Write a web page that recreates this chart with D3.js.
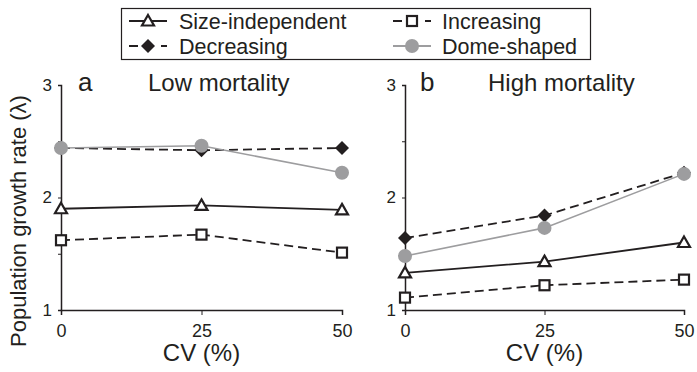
<!DOCTYPE html>
<html>
<head>
<meta charset="utf-8">
<script src="https://cdn.jsdelivr.net/npm/d3@7"></script>
<style>
  body { margin: 0; background: #fff; }
  text { font-family: "Liberation Sans", Arial, sans-serif; fill: #231f20; }
</style>
</head>
<body>
<svg id="chart" width="697" height="372"></svg>
<script>
// data
const cv = [0, 25, 50];
const seriesNames = ["Size-independent", "Decreasing", "Increasing", "Dome-shaped"];
const lowSizeIndep = [1.90, 1.93, 1.89];
const lowDecreasing = [2.44, 2.42, 2.44];
const lowIncreasing = [1.62, 1.67, 1.51];
const lowDome = [2.44, 2.46, 2.22];
const highSizeIndep = [1.33, 1.43, 1.60];
const highDecreasing = [1.64, 1.84, 2.22];
const highIncreasing = [1.11, 1.22, 1.27];
const highDome = [1.48, 1.73, 2.21];
const yTicks = [1, 1.5, 2, 2.5, 3];
const panelLetters = ["a", "b"];
const panelTitles = ["Low mortality", "High mortality"];

const svg = d3.select("#chart");
const ink = "#231f20";
const grey = "#9d9d9f";

const style = {
  "Size-independent": { dash: null, color: ink, marker: "triangle" },
  "Decreasing": { dash: "9,5", color: ink, marker: "diamond" },
  "Increasing": { dash: "9,5", color: ink, marker: "square" },
  "Dome-shaped": { dash: null, color: grey, marker: "circle" }
};

function marker(g, kind, x, y) {
  if (kind == "triangle") {
    g.append("path")
      .attr("d", `M${x},${y - 6}L${x + 6},${y + 4.5}L${x - 6},${y + 4.5}Z`)
      .attr("fill", "#fff").attr("stroke", ink).attr("stroke-width", 2.2);
  } else if (kind == "square") {
    g.append("rect")
      .attr("x", x - 5).attr("y", y - 5).attr("width", 10).attr("height", 10)
      .attr("fill", "#fff").attr("stroke", ink).attr("stroke-width", 2.2);
  } else if (kind == "diamond") {
    g.append("path")
      .attr("d", `M${x},${y - 7}L${x + 7},${y}L${x},${y + 7}L${x - 7},${y}Z`)
      .attr("fill", ink);
  } else {
    g.append("circle").attr("cx", x).attr("cy", y).attr("r", 7).attr("fill", grey);
  }
}

const panels = [
  { x0: 61, x1: 342, letterDx: 17, titleDx: 87,
    data: { "Size-independent": lowSizeIndep, "Decreasing": lowDecreasing, "Increasing": lowIncreasing, "Dome-shaped": lowDome } },
  { x0: 405, x1: 684, letterDx: 15, titleDx: 83,
    data: { "Size-independent": highSizeIndep, "Decreasing": highDecreasing, "Increasing": highIncreasing, "Dome-shaped": highDome } }
];

const y = d3.scaleLinear().domain([1, 3]).range([310, 85]);
const drawOrder = ["Increasing", "Size-independent", "Decreasing", "Dome-shaped"];

panels.forEach((p, i) => {
  const x = d3.scaleLinear().domain([0, 50]).range([p.x0, p.x1]);
  const g = svg.append("g");

  // y axis
  const ya = g.append("g").attr("transform", `translate(${p.x0},0)`)
    .call(d3.axisLeft(y).tickValues(yTicks).tickSizeOuter(0).tickSize(3)
      .tickFormat(d => Number.isInteger(d) ? d : ""));
  ya.select(".domain").attr("stroke", ink).attr("stroke-width", 1.5);
  ya.selectAll(".tick line").attr("stroke", ink);
  ya.selectAll(".tick text").attr("font-size", 17).attr("x", -9).attr("fill", ink)
    .style("font-family", "Liberation Sans, Arial, sans-serif");

  // x axis
  const xa = g.append("g").attr("transform", `translate(0,${y(1)})`)
    .call(d3.axisBottom(x).tickValues(cv).tickSizeOuter(0).tickSize(5));
  xa.select(".domain").attr("stroke", ink).attr("stroke-width", 1.5);
  xa.selectAll(".tick line").attr("stroke", ink);
  xa.selectAll(".tick text").attr("font-size", 18).attr("y", 14).attr("fill", ink)
    .style("font-family", "Liberation Sans, Arial, sans-serif");

  g.append("text").attr("x", (p.x0 + p.x1) / 2).attr("y", 361)
    .attr("text-anchor", "middle").attr("font-size", 24).text("CV (%)");

  g.append("text").attr("x", p.x0 + p.letterDx).attr("y", 91)
    .attr("font-size", 26).text(panelLetters[i]);
  g.append("text").attr("x", p.x0 + p.titleDx).attr("y", 91)
    .attr("font-size", 24).text(panelTitles[i]);

  drawOrder.forEach(name => {
    const s = style[name];
    const vals = p.data[name];
    const line = d3.line().x((d, k) => x(cv[k])).y(d => y(d));
    g.append("path").attr("d", line(vals)).attr("fill", "none")
      .attr("stroke", s.color).attr("stroke-width", name == "Dome-shaped" ? 1.6 : 1.8)
      .attr("stroke-dasharray", s.dash);
    vals.forEach((v, k) => marker(g, s.marker, x(cv[k]), y(v)));
  });
});

// y title
svg.append("text")
  .attr("transform", "translate(26,221) rotate(-90)")
  .attr("text-anchor", "middle").attr("font-size", 22)
  .text("Population growth rate (\u03bb)");

// legend
const lg = svg.append("g");
lg.append("rect").attr("x", 121.5).attr("y", 8.5).attr("width", 469).attr("height", 51)
  .attr("fill", "#fff").attr("stroke", ink).attr("stroke-width", 1.2);
const legendPos = [
  { lx: 129, tx: 179, ty: 21 },
  { lx: 129, tx: 179, ty: 46 },
  { lx: 393, tx: 442, ty: 21 },
  { lx: 393, tx: 442, ty: 46 }
];
seriesNames.forEach((name, i) => {
  const s = style[name];
  const pos = legendPos[i];
  lg.append("path").attr("d", `M${pos.lx},${pos.ty}L${pos.lx + 38},${pos.ty}`)
    .attr("stroke", s.color).attr("stroke-width", 1.8)
    .attr("stroke-dasharray", s.dash ? "9,7" : null);
  marker(lg, s.marker, pos.lx + 19, pos.ty);
  lg.append("text").attr("x", pos.tx).attr("y", pos.ty + 7.5)
    .attr("font-size", 21.5).text(name);
});
</script>
</body>
</html>
